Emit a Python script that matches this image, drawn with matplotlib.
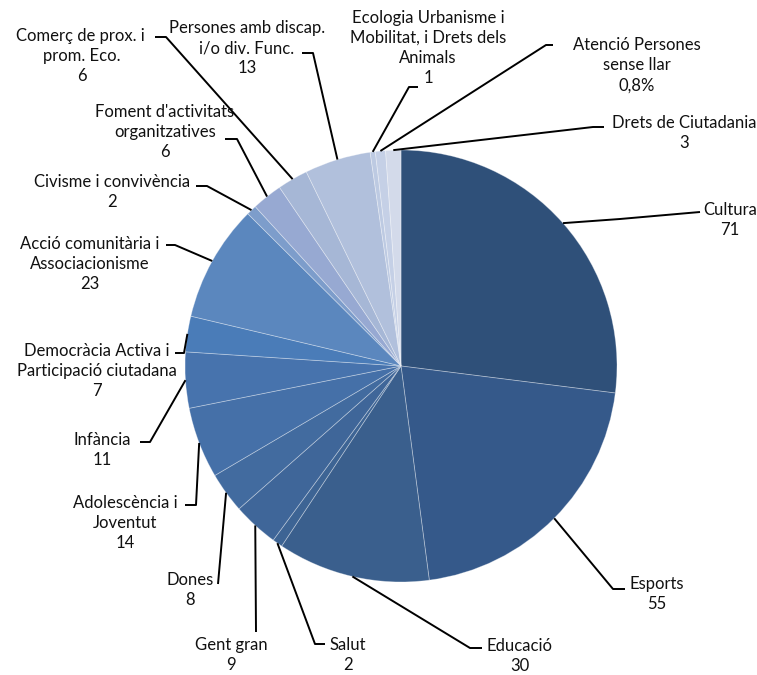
import numpy as np
import matplotlib
matplotlib.use('Agg')
import matplotlib.pyplot as plt

# categories and counts, clockwise from 12 o'clock
names = ["Cultura", "Esports", "Educació", "Salut", "Gent gran", "Dones",
         "Adolescència i\nJoventut", "Infància",
         "Democràcia Activa i\nParticipació ciutadana",
         "Acció comunitària i\nAssociacionisme", "Civisme i convivència",
         "Foment d'activitats\norganitzatives", "Comerç de prox. i \nprom. Eco.",
         "Persones amb discap.\ni/o div. Func.",
         "Ecologia Urbanisme i\nMobilitat, i Drets dels\nAnimals",
         "Atenció Persones\nsense llar", "Drets de Ciutadania"]
values = [71, 55, 30, 2, 9, 8, 14, 11, 7, 23, 2, 6, 6, 13, 1, 2, 3]
show_pct = [False] * 15 + [True, False]

colors = ["#2F5079", "#35598A", "#3A5F8D", "#3D6494", "#3F6699", "#426B9F",
          "#4570A8", "#4773AD", "#4A7CB8", "#5B87BE", "#7D9DCB", "#97A9D2",
          "#A6B7D6", "#B1C0DC", "#BDCAE2", "#C5D0E6", "#D3DAEA"]

W, H = 757, 675
def P(x, y):
    # pixel coords (from top-left) -> data coords
    return x, H - y

# label layout: text centre, elbow point, end of horizontal tick (pixels)
text_pos = [(730, 220), (657, 594), (520, 656), (348, 655), (231, 655),
            (190, 590), (125, 523), (102, 450), (97, 371), (90, 264),
            (112, 192), (165, 132), (82, 56), (247, 48), (428, 48),
            (637, 65), (684, 133)]
elbows = [(620, 219), (613, 589), (470, 648), (315, 644), (256, 632),
          (218, 584), (196, 505), (150, 442), (184, 353), (175, 245),
          (207, 186), (237, 139), (166, 37), (313, 53), (409, 87),
          (546, 45), (593, 127)]
ticks = [(700, 212), (625, 589), (482, 648), (325, 644), (256, 632),
         (218, 584), (185, 505), (140, 442), (175, 353), (166, 245),
         (196, 186), (225, 139), (155, 37), (302, 53), (418, 87),
         (553, 45), (604, 127)]

fig = plt.figure(figsize=(W / 100, H / 100), dpi=100, facecolor='white')
ax = fig.add_axes([0, 0, 1, 1])
ax.set_xlim(0, W)
ax.set_ylim(0, H)
ax.set_aspect('equal')
ax.axis('off')

cx, cy = P(401, 366)
R = 216
wedges, _ = ax.pie(values, colors=colors, startangle=90, counterclock=False,
                   center=(cx, cy), radius=R,
                   wedgeprops=dict(edgecolor=(1, 1, 1, 0.35), linewidth=0.6))
ax.set_xlim(0, W)
ax.set_ylim(0, H)

total = sum(values)
for i, w in enumerate(wedges):
    mid = np.deg2rad((w.theta1 + w.theta2) / 2)
    sx, sy = cx + R * np.cos(mid), cy + R * np.sin(mid)
    ex, ey = P(*elbows[i])
    tx, ty = P(*ticks[i])
    ax.plot([sx, ex, tx], [sy, ey, ty], color='black', lw=1.4,
            solid_capstyle='butt', zorder=3)
    if show_pct[i]:
        vtxt = f"{values[i] / total * 100:.1f}".replace('.', ',') + '%'
    else:
        vtxt = str(values[i])
    ax.text(*P(*text_pos[i]), names[i] + "\n" + vtxt, ha='center', va='center',
            fontsize=12, family=['Lato', 'DejaVu Sans'], color='#111111',
            linespacing=1.32)

fig.savefig('out.png', dpi=100, facecolor='white')
